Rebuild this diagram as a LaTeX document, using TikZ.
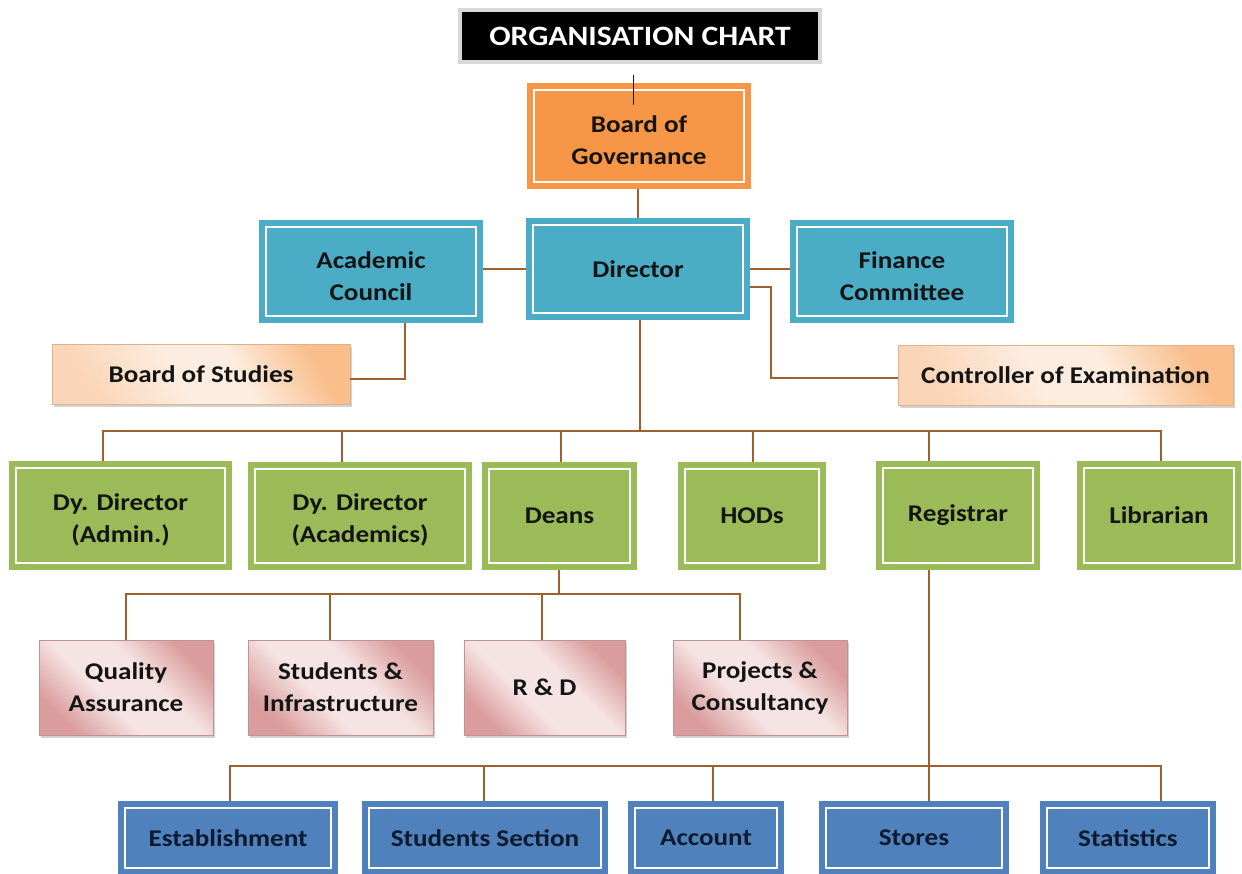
\documentclass[tikz,border=0pt]{standalone}
\usepackage{fontspec}
\setmainfont{Carlito}[FakeStretch=1.13]
\usetikzlibrary{shadows}
\definecolor{cOrange}{HTML}{F79646}
\definecolor{cTeal}{HTML}{4BACC6}
\definecolor{cGreen}{HTML}{9BBB59}
\definecolor{cBlue}{HTML}{4F81BD}
\definecolor{cLine}{HTML}{A0602E}
\definecolor{cText}{HTML}{141414}
\definecolor{cNavy}{HTML}{0E1A2E}
\definecolor{peachL}{HTML}{FDEDE0}
\definecolor{peachD}{HTML}{F9BE8C}
\definecolor{peachM}{HTML}{FBD5B7}
\definecolor{pinkL}{HTML}{F6E4E4}
\definecolor{pinkD}{HTML}{DA9C9C}
\newcommand{\toplift}{\rule{0pt}{25.5pt}}
\pgfdeclarehorizontalshading{peachshade}{100bp}{color(0bp)=(peachM); color(25bp)=(peachM); color(45bp)=(peachL); color(58bp)=(peachL); color(75bp)=(peachD); color(100bp)=(peachD)}
\pgfdeclarehorizontalshading{pinkshade}{100bp}{color(0bp)=(pinkD); color(25bp)=(pinkD); color(42bp)=(pinkL); color(58bp)=(pinkL); color(75bp)=(pinkD); color(100bp)=(pinkD)}
\tikzset{
  conn/.style={draw=cLine, line width=1.8pt},
  lbl/.style={font=\fontsize{24}{32}\selectfont\bfseries, text=cText, align=center, inner sep=0pt, outer sep=0pt},
  ob/.style={lbl, fill=#1, path picture={\draw[white, line width=2.4pt] ([shift={(7pt,7pt)}]path picture bounding box.south west) rectangle ([shift={(-7pt,-7pt)}]path picture bounding box.north east);}},
  peachbox/.style={lbl, shading=peachshade, shading angle=30, draw=peachD!80!gray, line width=0.4pt, drop shadow={shadow xshift=2pt, shadow yshift=-2.5pt, opacity=0.35}},
  pinkbox/.style={lbl, shading=pinkshade, shading angle=45, draw=pinkD!70!gray, line width=0.4pt, drop shadow={shadow xshift=2pt, shadow yshift=-2.5pt, opacity=0.35}},
  dim/.style n args={2}{minimum width=#1pt, minimum height=#2pt}
}
\begin{document}
\begin{tikzpicture}[x=1pt, y=-1pt]
\useasboundingbox[fill=white] (0,0) rectangle (1242,873);
% title
\node[fill=black, draw=gray!30, line width=3.5pt, dim={360}{52}, inner sep=0pt, font=\fontsize{28}{32}\selectfont\bfseries, text=white] (title) at (640,36) {ORGANISATION CHART};
% level boxes
\node[ob=cOrange, dim={224}{106}] (board) at (639,136) {\toplift Board of\\Governance};
\node[ob=cTeal, dim={224}{103}] (academic) at (371,271.5) {\toplift Academic\\Council};
\node[ob=cTeal, dim={224}{102}] (director) at (638,269) {Director};
\node[ob=cTeal, dim={224}{103}] (finance) at (902,271.5) {\toplift Finance\\Committee};
\node[peachbox, dim={298}{60}] (bos) at (201,374) {Board of Studies};
\node[peachbox, dim={335}{60}] (coe) at (1065.5,375) {Controller of Examination};
\node[ob=cGreen, dim={223}{109}] (dyadmin) at (120.5,515.5) {\toplift Dy. Director\\(Admin.)};
\node[ob=cGreen, dim={224}{108}] (dyacad) at (360,516) {\toplift Dy. Director\\(Academics)};
\node[ob=cGreen, dim={155}{108}] (deans) at (559.5,516) {Deans};
\node[ob=cGreen, dim={148}{108}] (hods) at (752,516) {HODs};
\node[ob=cGreen, dim={164}{109}] (registrar) at (958,515.5) {Registrar};
\node[ob=cGreen, dim={164}{109}] (librarian) at (1159,515.5) {Librarian};
\node[pinkbox, dim={174}{95}] (qa) at (126,687.5) {Quality\\Assurance};
\node[pinkbox, dim={185}{95}] (sandi) at (340.5,687.5) {Students \&\\Infrastructure};
\node[pinkbox, dim={161}{95}] (rd) at (544.5,687.5) {R \& D};
\node[pinkbox, dim={174}{95}] (proj) at (760,687.5) {Projects \&\\Consultancy};
\node[ob=cBlue, dim={220}{74}, text=cNavy] (estab) at (228,838) {Establishment};
\node[ob=cBlue, dim={246}{74}, text=cNavy] (studsec) at (485,838) {Students Section};
\node[ob=cBlue, dim={156}{74}, text=cNavy] (account) at (706,838) {Account};
\node[ob=cBlue, dim={190}{74}, text=cNavy] (stores) at (914,838) {Stores};
\node[ob=cBlue, dim={176}{74}, text=cNavy] (statistics) at (1128,838) {Statistics};
% title to board
\coordinate (t1) at (633,75);
\coordinate (t2) at (633,105);
\draw[draw=gray!20!black, line width=1pt] (t1) -- (t2);
% board to director
\draw[conn] (board.south -| director.north) -- (director.north);
% academic / finance
\draw[conn] (director.west) -- (director.west -| academic.east);
\draw[conn] (director.east) -- (director.east -| finance.west);
% academic to board of studies
\coordinate (a1) at (405,379);
\draw[conn] (a1 |- academic.south) -- (a1) -- (a1 -| bos.east);
% director to controller
\coordinate (c1) at (771,287);
\coordinate (c2) at (771,378);
\draw[conn] (c1 -| director.east) -- (c1) -- (c2) -- (c2 -| coe.west);
% director to level bus
\coordinate (b0) at (640,431);
\coordinate (b1) at (103,431);
\coordinate (b2) at (342,431);
\coordinate (b3) at (561,431);
\coordinate (b4) at (753,431);
\coordinate (b5) at (929,431);
\coordinate (b6) at (1161,431);
\draw[conn] (b0 |- director.south) -- (b0);
\draw[conn] (b1 |- dyadmin.north) -- (b1) -- (b6) -- (b6 |- librarian.north);
\draw[conn] (b2) -- (b2 |- dyacad.north);
\draw[conn] (b3) -- (b3 |- deans.north);
\draw[conn] (b4) -- (b4 |- hods.north);
\draw[conn] (b5) -- (b5 |- registrar.north);
% deans sub-bus
\coordinate (p0) at (559,594);
\coordinate (p1) at (126,594);
\coordinate (p2) at (330,594);
\coordinate (p3) at (542,594);
\coordinate (p4) at (740,594);
\draw[conn] (p0 |- deans.south) -- (p0);
\draw[conn] (p1 |- qa.north) -- (p1) -- (p4) -- (p4 |- proj.north);
\draw[conn] (p2) -- (p2 |- sandi.north);
\draw[conn] (p3) -- (p3 |- rd.north);
% registrar bus
\coordinate (r0) at (929,766);
\coordinate (r1) at (230,766);
\coordinate (r2) at (484,766);
\coordinate (r3) at (713,766);
\coordinate (r5) at (1161,766);
\draw[conn] (r0 |- registrar.south) -- (r0 |- stores.north);
\draw[conn] (r1 |- estab.north) -- (r1) -- (r5) -- (r5 |- statistics.north);
\draw[conn] (r2) -- (r2 |- studsec.north);
\draw[conn] (r3) -- (r3 |- account.north);
\end{tikzpicture}
\end{document}
